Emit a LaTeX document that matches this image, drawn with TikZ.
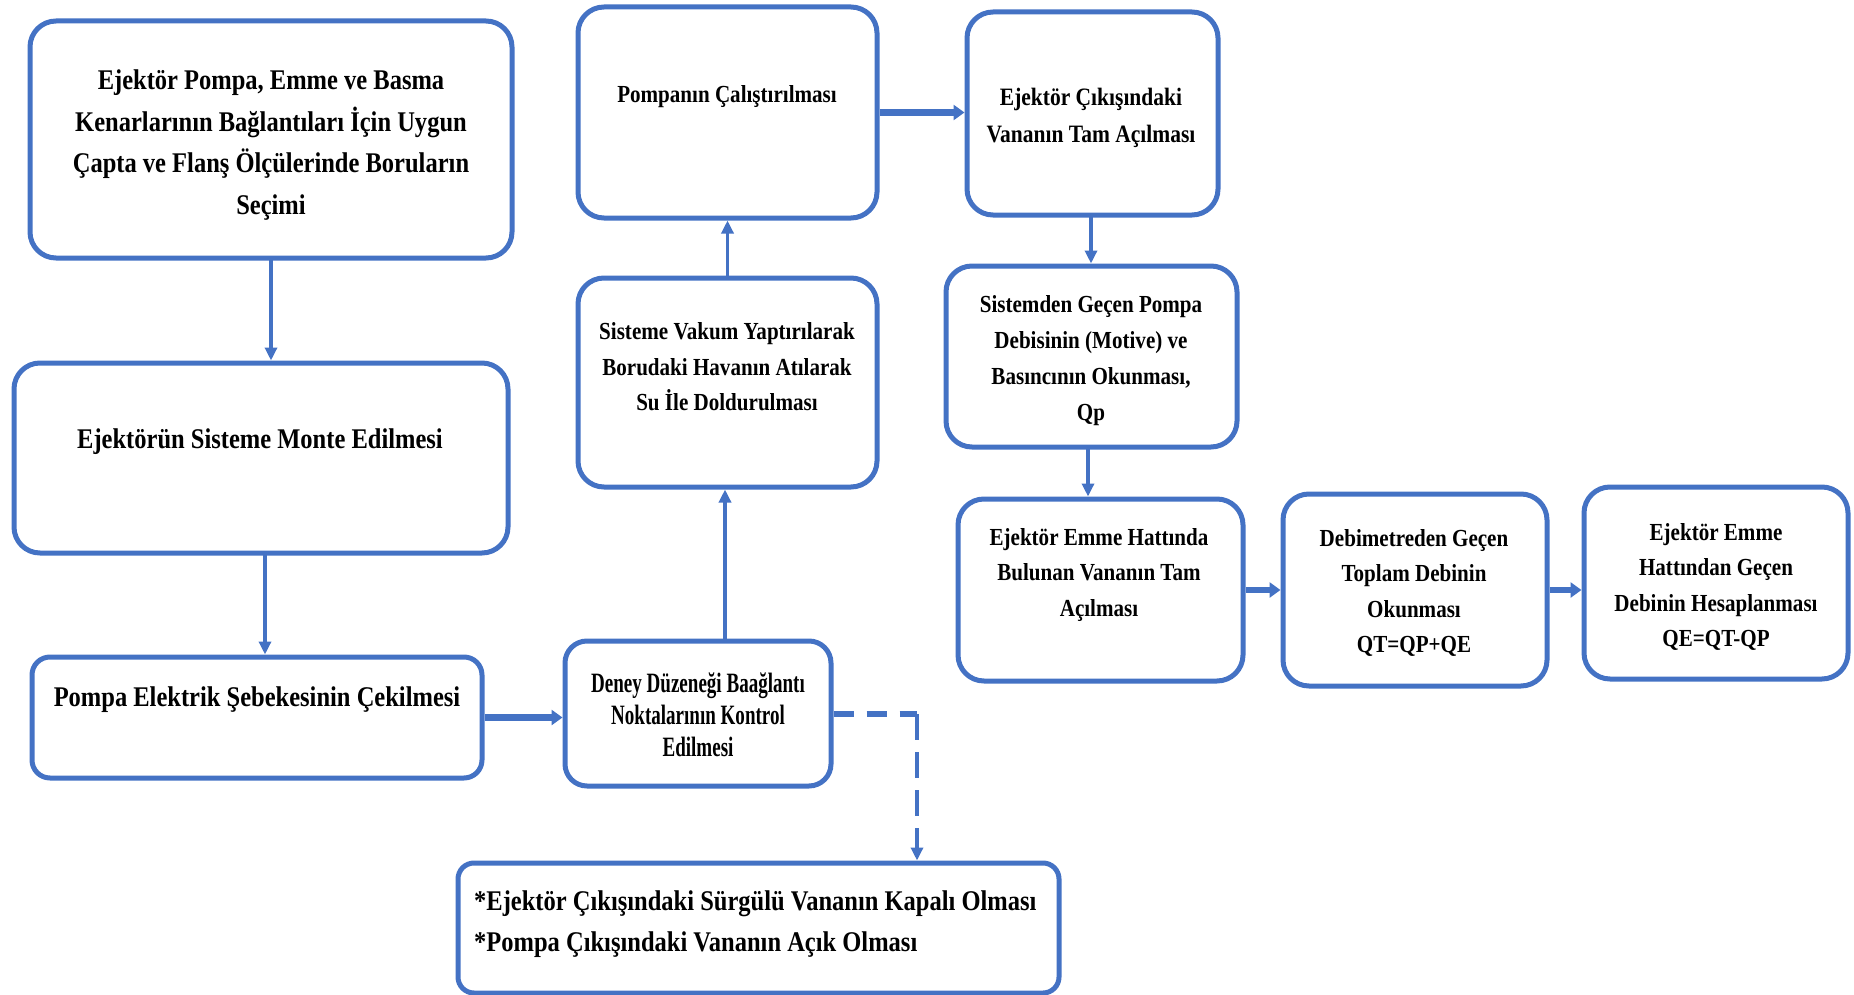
\documentclass[tikz,border=0pt]{standalone}
\usepackage{fontspec}
\setmainfont{Liberation Serif}
\newfontfamily\fA[FakeStretch=0.86]{Liberation Serif}
\newfontfamily\fB[FakeStretch=0.68]{Liberation Serif}
\usetikzlibrary{arrows.meta,calc}
\definecolor{bblue}{HTML}{4472C4}
\begin{document}
\begin{tikzpicture}[x=1pt,y=-1pt,
  box/.style={draw=bblue, line width=5pt, rounded corners=26pt, inner sep=0pt},
  txtL/.style={font=\fA\bfseries\fontsize{28.5}{41.5}\selectfont, align=center, inner sep=0pt},
  txtM/.style={font=\fA\bfseries\fontsize{24.5}{36}\selectfont, align=center, inner sep=0pt},
  txtN/.style={font=\fB\bfseries\fontsize{28}{32}\selectfont, align=center, inner sep=0pt},
  thin/.style={draw=bblue, line width=3.5pt, -{Triangle[length=13pt,width=12pt]}},
  thick/.style={draw=bblue, line width=6.5pt, -{Triangle[length=11pt,width=15pt]}},
]
\useasboundingbox (0,0) rectangle (1854,995);

% boxes
\node[box, minimum width=482pt, minimum height=237pt] (b1) at (271,139.5) {};
\node[box, minimum width=494pt, minimum height=190pt] (b2) at (261,458) {};
\node[box, minimum width=450pt, minimum height=121pt, rounded corners=18pt] (b3) at (257,717.5) {};
\node[box, minimum width=266pt, minimum height=145pt, rounded corners=22pt] (b4) at (698,713.5) {};
\node[box, minimum width=601pt, minimum height=130pt, rounded corners=16pt] (b5) at (758.5,928) {};
\node[box, minimum width=299pt, minimum height=209pt] (b6) at (727.5,382.5) {};
\node[box, minimum width=299pt, minimum height=211pt] (b7) at (727.5,112.5) {};
\node[box, minimum width=251pt, minimum height=203pt] (b8) at (1092.5,113.5) {};
\node[box, minimum width=291pt, minimum height=181pt] (b9) at (1091.5,356.5) {};
\node[box, minimum width=285pt, minimum height=182pt] (b10) at (1100.5,590) {};
\node[box, minimum width=264pt, minimum height=192pt] (b11) at (1415,590) {};
\node[box, minimum width=264pt, minimum height=192pt] (b12) at (1716,583) {};

% texts
\node[txtL] (t1) at (271,145) {Ejektör Pompa, Emme ve Basma\\Kenarlarının Bağlantıları İçin Uygun\\Çapta ve Flanş Ölçülerinde Boruların\\Seçimi};
\node[txtL] (t2) at (260,442) {Ejektörün Sisteme Monte Edilmesi};
\node[txtL] (t3) at (257,700) {Pompa Elektrik Şebekesinin Çekilmesi};
\node[txtN] (t4) at (698,715) {Deney Düzeneği Baağlantı\\Noktalarının Kontrol\\Edilmesi};
\node[txtL, align=left, anchor=west, font=\fA\bfseries\fontsize{28.5}{41}\selectfont] (t5) at (474,924) {*Ejektör Çıkışındaki Sürgülü Vananın Kapalı Olması\\*Pompa Çıkışındaki Vananın Açık Olması};
\node[txtM, font=\fA\bfseries\fontsize{24.5}{35.5}\selectfont] (t6) at (727,367) {Sisteme Vakum Yaptırılarak\\Borudaki Havanın Atılarak\\Su İle Doldurulması};
\node[txtM] (t7) at (727,97) {Pompanın Çalıştırılması};
\node[txtM, font=\fA\bfseries\fontsize{25}{37}\selectfont] (t8) at (1091,118) {Ejektör Çıkışındaki\\Vananın Tam Açılması};
\node[txtM] (t9) at (1091,361) {Sistemden Geçen Pompa\\Debisinin (Motive) ve\\Basıncının Okunması,\\Qp};
\node[txtM, font=\fA\bfseries\fontsize{24.5}{35.5}\selectfont] (t10) at (1099,575) {Ejektör Emme Hattında\\Bulunan Vananın Tam\\Açılması};
\node[txtM, font=\fA\bfseries\fontsize{24.5}{35.5}\selectfont] (t11) at (1414,593) {Debimetreden Geçen\\Toplam Debinin\\Okunması\\QT=QP+QE};
\node[txtM, font=\fA\bfseries\fontsize{24.5}{35.5}\selectfont] (t12) at (1716,587) {Ejektör Emme\\Hattından Geçen\\Debinin Hesaplanması\\QE=QT-QP};

% connectors
\coordinate (c1) at (271,258);
\draw[thin] (c1) -- (c1 |- b2.north);
\coordinate (c2) at (265,553);
\draw[thin] (c2) -- (c2 |- b3.north);
\draw[thick] (b3.east) -- (b3.east -| b4.west);
\coordinate (c4) at (725,641);
\draw[thin] (c4) -- (c4 |- b6.south);
\draw[thin] (b6.north) -- (b7.south);
\draw[thick] (b7.east) -- (b7.east -| b8.west);
\coordinate (c8) at (1091,215);
\draw[thin] (c8) -- (c8 |- b9.north);
\coordinate (c9) at (1088,447);
\draw[thin] (c9) -- (c9 |- b10.north);
\draw[thick] (b10.east) -- (b10.east -| b11.west);
\draw[thick] (b11.east) -- (b11.east -| b12.west);

% dashed link
\coordinate (d1) at (917,714);
\draw[draw=bblue, line width=6.5pt, dash pattern=on 20pt off 13pt] (b4.east |- d1) -- (d1);
\draw[draw=bblue, line width=3.5pt, dash pattern=on 26pt off 12pt, -{Triangle[length=13pt,width=12pt]}] (d1) -- (d1 |- b5.north);
\end{tikzpicture}
\end{document}
